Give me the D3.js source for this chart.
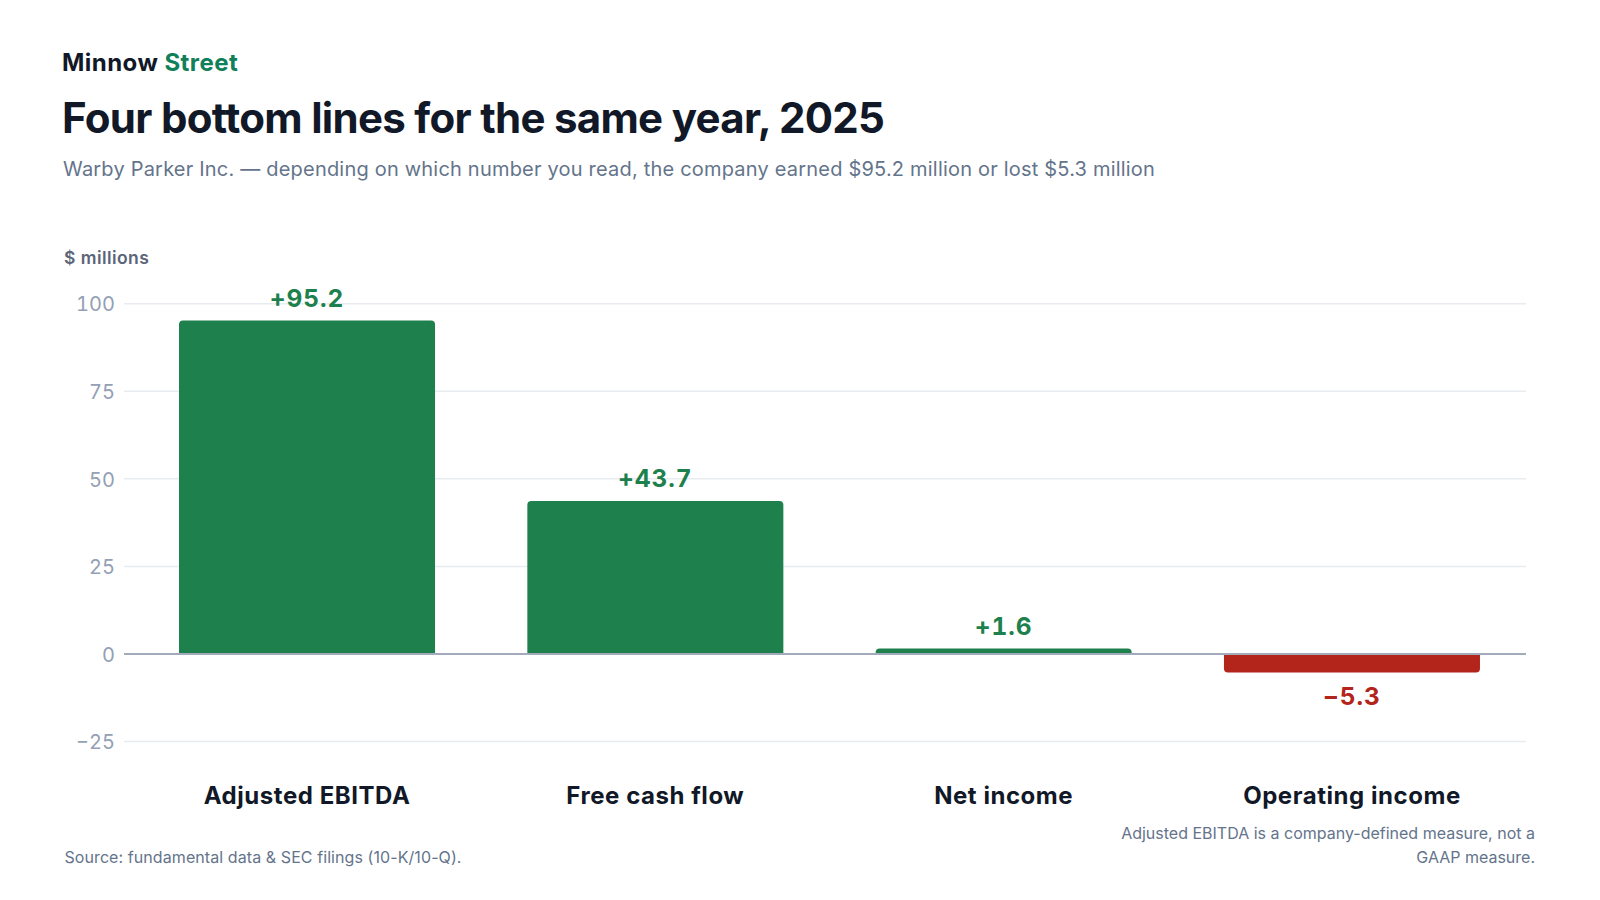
<!DOCTYPE html>
<html>
<head>
<meta charset="utf-8">
<script src="https://cdn.jsdelivr.net/npm/d3@7"></script>
<style>
  html, body { margin: 0; padding: 0; background: #ffffff; }
  svg { display: block; font-family: Inter, "Noto Sans", sans-serif; }
  .num { font-variant-numeric: tabular-nums; font-feature-settings: "tnum" 1; }
</style>
</head>
<body>
<svg id="chart" width="1600" height="900"></svg>
<script>
const categories = ["Adjusted EBITDA", "Free cash flow", "Net income", "Operating income"];
const values = [95.2, 43.7, 1.6, -5.3];
const valueLabels = ["+95.2", "+43.7", "+1.6", "\u22125.3"];
const yTicks = [-25, 0, 25, 50, 75, 100];
const yTickLabels = ["\u221225", "0", "25", "50", "75", "100"];

const svg = d3.select("#chart");
const GREEN = "#1d804d", RED = "#b3241b";

// Header
const brand = svg.append("text").attr("x", 62).attr("y", 70.5)
  .attr("font-size", 24).attr("font-weight", 700).attr("letter-spacing", 0.45);
brand.append("tspan").attr("fill", "#111827").text("Minnow ");
brand.append("tspan").attr("fill", "#10805a").text("Street");

svg.append("text").attr("x", 62).attr("y", 132.5)
  .attr("font-size", 42).attr("font-weight", 700).attr("letter-spacing", -0.7)
  .attr("fill", "#111827").text("Four bottom lines for the same year, 2025");

svg.append("text").attr("x", 63).attr("y", 176)
  .attr("font-size", 20).attr("fill", "#64748b").attr("letter-spacing", 0.2)
  .text("Warby Parker Inc. \u2014 depending on which number you read, the company earned $95.2 million or lost $5.3 million");

svg.append("text").attr("x", 64).attr("y", 264)
  .attr("font-size", 17.5).attr("font-weight", 600).attr("fill", "#5b6478").attr("letter-spacing", 0.45)
  .text("$ millions");

// Scales
const y = d3.scaleLinear().domain([-25, 100]).range([741.6, 303.7]);
const x = d3.scaleBand().domain(categories).range([132, 1527])
  .paddingInner(0.265).paddingOuter(0.135);
const gridX0 = 124, gridX1 = 1526;

// Grid
svg.append("g").selectAll("line").data(yTicks.filter(d => d !== 0)).join("line")
  .attr("x1", gridX0).attr("x2", gridX1)
  .attr("y1", d => y(d)).attr("y2", d => y(d))
  .attr("stroke", "#e8ebf0").attr("stroke-width", 1.5);

// Y axis labels
const yAxis = d3.axisLeft(y).tickValues(yTicks).tickSize(0).tickPadding(0)
  .tickFormat(d => yTickLabels[yTicks.indexOf(d)]);
const ga = svg.append("g").attr("transform", "translate(115,0)").call(yAxis);
ga.select(".domain").remove();
ga.selectAll("text").attr("class", "num").attr("font-family", "Inter, sans-serif").attr("font-size", 20)
  .attr("fill", "#94a0b4").attr("dy", "0.36em");

// Bars with rounded outer corners
const r = 4;
function barPath(d, i) {
  const x0 = x(categories[i]), w = x.bandwidth();
  const y0 = y(0), y1 = y(d);
  if (d >= 0) {
    const h = y0 - y1, rr = Math.min(r, h);
    return `M${x0},${y0}V${y1 + rr}Q${x0},${y1} ${x0 + rr},${y1}H${x0 + w - rr}Q${x0 + w},${y1} ${x0 + w},${y1 + rr}V${y0}Z`;
  } else {
    const h = y1 - y0, rr = Math.min(r, h);
    return `M${x0},${y0}V${y1 - rr}Q${x0},${y1} ${x0 + rr},${y1}H${x0 + w - rr}Q${x0 + w},${y1} ${x0 + w},${y1 - rr}V${y0}Z`;
  }
}
svg.append("g").selectAll("path").data(values).join("path")
  .attr("d", barPath)
  .attr("fill", d => d >= 0 ? GREEN : RED);

// Zero line
svg.append("line").attr("x1", gridX0).attr("x2", gridX1)
  .attr("y1", y(0)).attr("y2", y(0))
  .attr("stroke", "#a3abbb").attr("stroke-width", 2);

// Value labels
svg.append("g").selectAll("text").data(values).join("text")
  .attr("class", "num")
  .attr("x", (d, i) => x(categories[i]) + x.bandwidth() / 2)
  .attr("y", d => d >= 0 ? y(d) - 13.5 : y(d) + 32.5)
  .attr("text-anchor", "middle").attr("font-size", 24.5).attr("font-weight", 700)
  .attr("letter-spacing", 0.9)
  .attr("fill", d => d >= 0 ? GREEN : RED)
  .text((d, i) => valueLabels[i]);

// Category labels
svg.append("g").selectAll("text").data(categories).join("text")
  .attr("x", d => x(d) + x.bandwidth() / 2)
  .attr("y", 803.5)
  .attr("text-anchor", "middle").attr("font-size", 24).attr("font-weight", 700)
  .attr("letter-spacing", 0.55)
  .attr("fill", "#111827").text(d => d);

// Footer
svg.append("text").attr("x", 64.5).attr("y", 863.3)
  .attr("font-size", 16).attr("fill", "#64748b").attr("letter-spacing", 0.08)
  .text("Source: fundamental data & SEC filings (10-K/10-Q).");

const note = svg.append("text").attr("text-anchor", "end")
  .attr("font-size", 16).attr("fill", "#64748b");
note.append("tspan").attr("x", 1535).attr("y", 839.3)
  .text("Adjusted EBITDA is a company-defined measure, not a");
note.append("tspan").attr("x", 1535).attr("y", 863.3).text("GAAP measure.");
</script>
</body>
</html>
